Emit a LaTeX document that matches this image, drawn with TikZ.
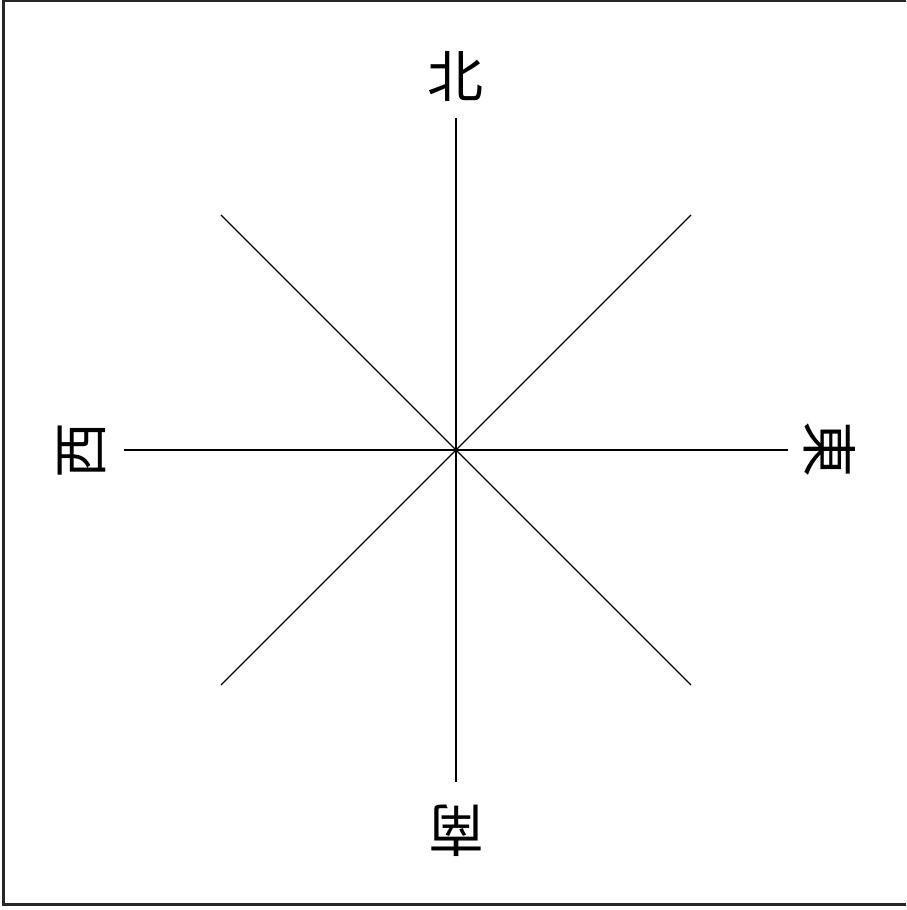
\documentclass[tikz,border=0pt]{standalone}
\usepackage{fontspec}
\newfontfamily\cjk{Noto Sans CJK SC}
\begin{document}
\begin{tikzpicture}[x=1pt,y=1pt]

                \tikzset{ray/.style = {line width=1.4pt,black}}
                \tikzset{dirlabel/.style = {font=\cjk\fontsize{56}{56}\selectfont,inner sep=0pt}}

                \useasboundingbox (-456,-460) rectangle (450,450);
                \draw[line width=2.2pt,black!85] (450,449) -- (-452.5,449) -- (-452.5,-454.5) -- (450,-454.5);

                \coordinate (c) at (0,0);
                \coordinate (n) at (0,332);
                \coordinate (s) at (0,-332);
                \coordinate (e) at (332,0);
                \coordinate (w) at (-332,0);
                \coordinate (ne) at (235,235);
                \coordinate (nw) at (-235,235);
                \coordinate (se) at (235,-235);
                \coordinate (sw) at (-235,-235);

                \node[dirlabel] (north) at (0,374) {北};
                \node[dirlabel,rotate=-90] (east) at (374,0) {東};
                \node[dirlabel,rotate=180] (south) at (0,-381) {南};
                \node[dirlabel,rotate=90] (west) at (-374,0) {西};

                \draw[ray] (n) -- (s);
                \draw[ray] (w) -- (e);
                \draw[ray] (nw) -- (se);
                \draw[ray] (sw) -- (ne);

\end{tikzpicture}
\end{document}
